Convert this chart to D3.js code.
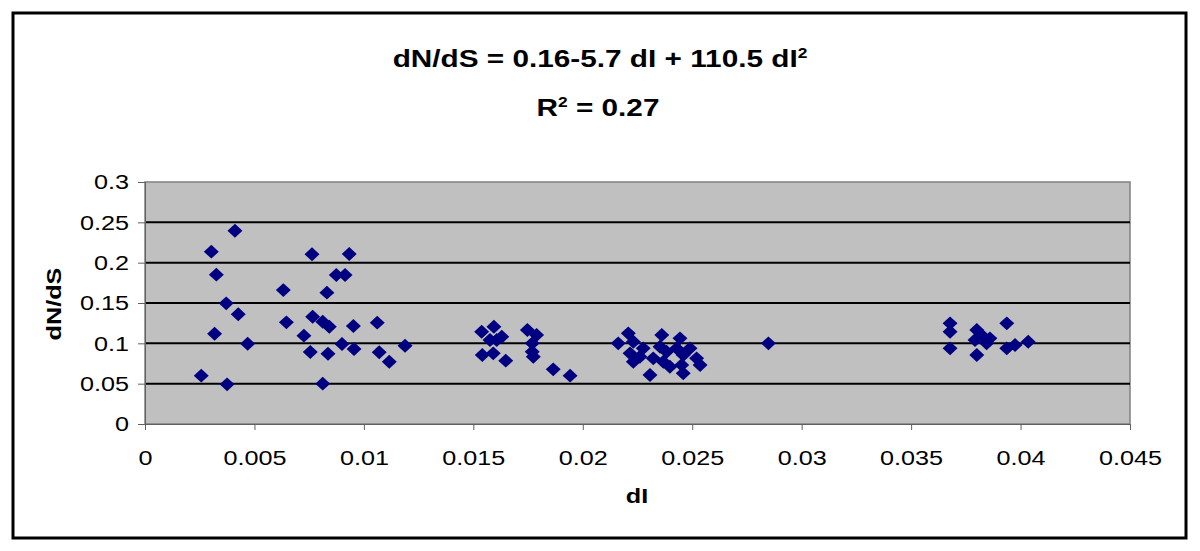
<!DOCTYPE html>
<html>
<head>
<meta charset="utf-8">
<script src="https://cdn.jsdelivr.net/npm/d3@7"></script>
<style>
  body { margin: 0; background: #fff; }
  text { font-family: "Liberation Sans", Arial, sans-serif; }
</style>
</head>
<body>
<div id="chart"></div>
<script>
// dI values (x)
const dI = [
    0.00411, 0.00303, 0.00326, 0.00371, 0.00426, 0.00318, 0.00469, 0.00257, 0.00375,
    0.00632, 0.00646, 0.00763, 0.00933, 0.00874, 0.00914, 0.00831, 0.00766, 0.00812,
    0.00842, 0.00952, 0.01061, 0.00726, 0.00900, 0.00955, 0.00755, 0.00836, 0.01070,
    0.00812, 0.01116, 0.01188,
    0.01538, 0.01594, 0.01630, 0.01576, 0.01541, 0.01591, 0.01648, 0.01607,
    0.01747, 0.01789, 0.01769, 0.01769, 0.01774, 0.01865, 0.01942,
    0.02208, 0.02162, 0.02231, 0.02216, 0.02231, 0.02276, 0.02261, 0.02307, 0.02322,
    0.02361, 0.02353, 0.02383, 0.02368, 0.02444, 0.02429, 0.02459, 0.02452, 0.02490,
    0.02520, 0.02536, 0.02459, 0.02398,
    0.02848,
    0.03678, 0.03678, 0.03678, 0.03800, 0.03830, 0.03792, 0.03845, 0.03800, 0.03860,
    0.03937, 0.03937, 0.03975, 0.04035
];

// dN/dS values (y)
const dNdS = [
    0.2396, 0.2136, 0.1851, 0.1496, 0.1360, 0.1119, 0.0995, 0.0599, 0.0492,
    0.1660, 0.1260, 0.2104, 0.2108, 0.1847, 0.1847, 0.1628, 0.1330, 0.1268,
    0.1206, 0.1215, 0.1256, 0.1095, 0.0992, 0.0930, 0.0893, 0.0871, 0.0889,
    0.0500, 0.0772, 0.0970,
    0.1144, 0.1206, 0.1082, 0.1041, 0.0855, 0.0876, 0.0785, 0.1041,
    0.1165, 0.1103, 0.1000, 0.0896, 0.0834, 0.0678, 0.0599,
    0.1124, 0.1000, 0.1020, 0.0876, 0.0772, 0.0938, 0.0834, 0.0607, 0.0814,
    0.1103, 0.0958, 0.0896, 0.0772, 0.1062, 0.0938, 0.0855, 0.0731, 0.0938,
    0.0814, 0.0731, 0.0628, 0.0710,
    0.1000,
    0.1248, 0.1144, 0.0938, 0.1165, 0.1082, 0.1041, 0.1000, 0.0855, 0.1062,
    0.1248, 0.0938, 0.0979, 0.1020
];

const xTicks = [0, 0.005, 0.01, 0.015, 0.02, 0.025, 0.03, 0.035, 0.04, 0.045];
const yTicks = [0, 0.05, 0.1, 0.15, 0.2, 0.25, 0.3];

const titleLine1 = "dN/dS = 0.16-5.7 dI + 110.5 dI";
const titleLine2 = "R";
const titleLine2b = " = 0.27";

let chart = {
    width: 1200,
    height: 551,
    left: 145,
    right: 1130,
    top: 182,
    bottom: 424
};

// the original text is a bit wider than plain Arial
const stretch = 1.2;
const titleStretch = 1.24;

var svg = d3.select("#chart")
    .append("svg")
    .attr("width", chart.width)
    .attr("height", chart.height);

// outer frame
svg.append("rect")
    .attr("x", 13)
    .attr("y", 13)
    .attr("width", 1173)
    .attr("height", 525)
    .attr("fill", "#fff")
    .attr("stroke", "#000")
    .attr("stroke-width", 3);

var xscale = d3.scaleLinear().domain([0, 0.045]).range([chart.left, chart.right]);
var yscale = d3.scaleLinear().domain([0, 0.3]).range([chart.bottom, chart.top]);

// plot area
svg.append("rect")
    .attr("x", chart.left)
    .attr("y", chart.top)
    .attr("width", chart.right - chart.left)
    .attr("height", chart.bottom - chart.top)
    .attr("fill", "#c0c0c0")
    .attr("stroke", "#808080")
    .attr("stroke-width", 1.5);

// gridlines
svg.append("g")
    .selectAll("line")
    .data(yTicks.filter(d => d > 0 && d < 0.3))
    .enter()
    .append("line")
    .attr("x1", chart.left)
    .attr("x2", chart.right)
    .attr("y1", d => yscale(d))
    .attr("y2", d => yscale(d))
    .attr("stroke", "#000")
    .attr("stroke-width", 2);

var xaxis = d3.axisBottom(xscale)
    .tickValues(xTicks)
    .tickFormat(d => d3.format("")(+d.toFixed(3)))
    .tickSize(6)
    .tickPadding(20);

var gx = svg.append("g")
    .attr("transform", "translate(0," + chart.bottom + ")")
    .call(xaxis);
gx.selectAll("text")
    .style("font-size", "21px")
    .attr("fill", "#000")
    .attr("transform", "scale(" + stretch + ",1)");
gx.select(".domain").attr("stroke", "#606060");
gx.selectAll(".tick line").attr("stroke", "#606060");

var yaxis = d3.axisLeft(yscale)
    .tickValues(yTicks)
    .tickFormat(d => d3.format("")(+d.toFixed(2)))
    .tickSize(7)
    .tickPadding(9);

var gy = svg.append("g")
    .attr("transform", "translate(" + chart.left + ",0)")
    .call(yaxis);
gy.selectAll("text")
    .style("font-size", "21px")
    .attr("fill", "#000")
    .attr("x", -16 / stretch)
    .attr("transform", "scale(" + stretch + ",1)");
gy.select(".domain").attr("stroke", "#606060");
gy.selectAll(".tick line").attr("stroke", "#606060");

// points
var diamond = d3.symbol().type(d3.symbolSquare).size(96);
svg.append("g")
    .selectAll("path")
    .data(dI.map((x, i) => ({x: x, y: dNdS[i]})))
    .enter()
    .append("path")
    .attr("d", diamond)
    .attr("transform", d => "translate(" + xscale(d.x) + "," + yscale(d.y) + ") scale(1.08,1) rotate(45)")
    .attr("fill", "#000080");

// titles
var t1 = svg.append("text")
    .attr("transform", "translate(600,67) scale(" + titleStretch + ",1)")
    .attr("text-anchor", "middle")
    .style("font-size", "24px")
    .style("font-weight", "bold");
t1.append("tspan").text(titleLine1);
t1.append("tspan").attr("dy", -9).style("font-size", "14px").text("2");

var t2 = svg.append("text")
    .attr("transform", "translate(598,116) scale(" + titleStretch + ",1)")
    .attr("text-anchor", "middle")
    .style("font-size", "24px")
    .style("font-weight", "bold");
t2.append("tspan").text(titleLine2);
t2.append("tspan").attr("dy", -9).style("font-size", "14px").text("2");
t2.append("tspan").attr("dy", 9).text(titleLine2b);

// axis labels
svg.append("text")
    .attr("transform", "translate(637,503) scale(" + stretch + ",1)")
    .attr("text-anchor", "middle")
    .style("font-size", "21px")
    .style("font-weight", "bold")
    .text("dI");

svg.append("text")
    .attr("transform", "translate(61,304) rotate(-90) scale(" + stretch + ",1)")
    .attr("text-anchor", "middle")
    .style("font-size", "21px")
    .style("font-weight", "bold")
    .text("dN/dS");
</script>
</body>
</html>
